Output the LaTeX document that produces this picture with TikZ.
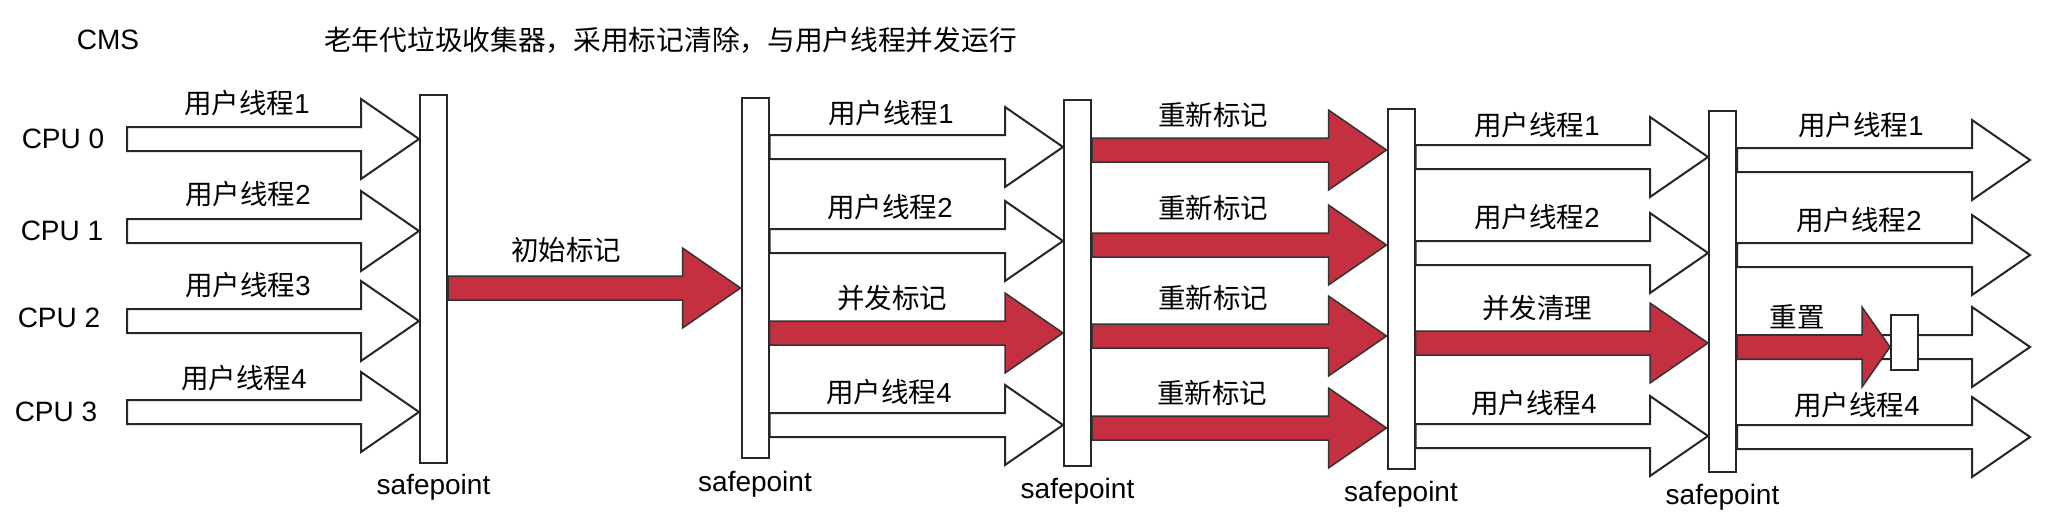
\documentclass[tikz,border=0pt]{standalone}
\usepackage{fontspec}
\setmainfont{Liberation Sans}
\newfontfamily\cjk{Noto Sans CJK SC}
\usepackage{xcolor}
\usetikzlibrary{positioning, calc}
\definecolor{markred}{RGB}{196,48,64}

\begin{document}
\begin{tikzpicture}[x=1pt, y=-1pt, line join=miter]
    \tikzset{
        sbar/.style={rectangle, draw=black!85, fill=white, line width=2pt, minimum width=27, inner sep=0},
        fat/.style={to path={let \p1=(\tikztostart), \p2=(\tikztotarget) in
            (\x1,\y2+12) -- (\x2-#1,\y2+12) -- (\x2-#1,\y2+40) -- (\x2,\y2)
            -- (\x2-#1,\y2-40) -- (\x2-#1,\y2-12) -- (\x1,\y2-12) -- cycle}},
        fat/.default=58,
        thread/.style={draw=black!85, line width=2pt, fill=white, fat},
        gc/.style={draw=black!80, line width=1.5pt, fill=markred, fat},
        lab/.style={font=\cjk\fontsize{27.5}{30}\selectfont, inner sep=0},
        txt/.style={font=\fontsize{28}{32}\selectfont, inner sep=0}
    }
    \useasboundingbox (0,0) rectangle (2050,530);

    \node[txt] (cms) at (108,40) {CMS};
    \node[lab, anchor=west, font=\cjk\fontsize{27.7}{32}\selectfont] (title) at (324,40) {老年代垃圾收集器，采用标记清除，与用户线程并发运行};

    \coordinate (lstart) at (127,0);
    \coordinate (rend) at (2030,0);

    % safepoints
    \node[sbar, minimum height=368] (sp1) at (433.5,279) {};
    \node[sbar, minimum height=360] (sp2) at (755,278) {};
    \node[sbar, minimum height=366] (sp3) at (1077.5,283) {};
    \node[sbar, minimum height=360] (sp4) at (1401,289) {};
    \node[sbar, minimum height=361] (sp5) at (1722.5,291.5) {};

    \node[txt, below=10pt of sp1] (sl1) {safepoint};
    \node[txt, below=12pt of sp2] (sl2) {safepoint};
    \node[txt, below=11pt of sp3] (sl3) {safepoint};
    \node[txt, below=11pt of sp4] (sl4) {safepoint};
    \node[txt, below=11pt of sp5] (sl5) {safepoint};

    \node[txt] (cpu0) at (63,139) {CPU 0};
    \node[txt] (cpu1) at (62,231) {CPU 1};
    \node[txt] (cpu2) at (59,318) {CPU 2};
    \node[txt] (cpu3) at (56,412) {CPU 3};

    % before first safepoint
    \draw[thread] (lstart |- 0,139) to (sp1.west |- 0,139);
    \draw[thread] (lstart |- 0,231) to (sp1.west |- 0,231);
    \draw[thread] (lstart |- 0,321) to (sp1.west |- 0,321);
    \draw[thread] (lstart |- 0,412) to (sp1.west |- 0,412);
    \node[lab] (t11) at (247,103) {用户线程{\normalfont 1}};
    \node[lab] (t12) at (248,194) {用户线程{\normalfont 2}};
    \node[lab] (t13) at (248,285) {用户线程{\normalfont 3}};
    \node[lab] (t14) at (244,378) {用户线程{\normalfont 4}};

    \draw[gc] (sp1.east |- 0,288) to (sp2.west |- 0,288);
    \node[lab] (init) at (566,250) {初始标记};

    \draw[thread] (sp2.east |- 0,147) to (sp3.west |- 0,147);
    \draw[thread] (sp2.east |- 0,241) to (sp3.west |- 0,241);
    \draw[gc] (sp2.east |- 0,333) to (sp3.west |- 0,333);
    \draw[thread] (sp2.east |- 0,425) to (sp3.west |- 0,425);
    \node[lab] (t21) at (891,113) {用户线程{\normalfont 1}};
    \node[lab] (t22) at (890,207) {用户线程{\normalfont 2}};
    \node[lab] (t23) at (892,298) {并发标记};
    \node[lab] (t24) at (889,392) {用户线程{\normalfont 4}};

    \draw[gc] (sp3.east |- 0,150) to (sp4.west |- 0,150);
    \draw[gc] (sp3.east |- 0,245) to (sp4.west |- 0,245);
    \draw[gc] (sp3.east |- 0,336) to (sp4.west |- 0,336);
    \draw[gc] (sp3.east |- 0,428) to (sp4.west |- 0,428);
    \node[lab] (t31) at (1213,115) {重新标记};
    \node[lab] (t32) at (1213,208) {重新标记};
    \node[lab] (t33) at (1213,298) {重新标记};
    \node[lab] (t34) at (1212,393) {重新标记};

    \draw[thread] (sp4.east |- 0,157) to (sp5.west |- 0,157);
    \draw[thread] (sp4.east |- 0,253) to (sp5.west |- 0,253);
    \draw[gc] (sp4.east |- 0,343) to (sp5.west |- 0,343);
    \draw[thread] (sp4.east |- 0,436) to (sp5.west |- 0,436);
    \node[lab] (t41) at (1537,125) {用户线程{\normalfont 1}};
    \node[lab] (t42) at (1537,217) {用户线程{\normalfont 2}};
    \node[lab] (t43) at (1537,308) {并发清理};
    \node[lab] (t44) at (1534,403) {用户线程{\normalfont 4}};

    \draw[thread] (sp5.east |- 0,160) to (rend |- 0,160);
    \draw[thread] (sp5.east |- 0,255) to (rend |- 0,255);
    \draw[thread] (sp5.east |- 0,347) to (rend |- 0,347);
    \draw[thread] (sp5.east |- 0,437) to (rend |- 0,437);
    \coordinate (rst) at (1890,347);
    \draw[gc, fat=28] (sp5.east |- rst) to (rst);
    \node[sbar, minimum height=55, anchor=west, yshift=4.5pt] (reset) at (rst) {};
    \node[lab] (t51) at (1861,125) {用户线程{\normalfont 1}};
    \node[lab] (t52) at (1859,220) {用户线程{\normalfont 2}};
    \node[lab] (t53) at (1797,317) {重置};
    \node[lab] (t54) at (1857,405) {用户线程{\normalfont 4}};
\end{tikzpicture}
\end{document}
